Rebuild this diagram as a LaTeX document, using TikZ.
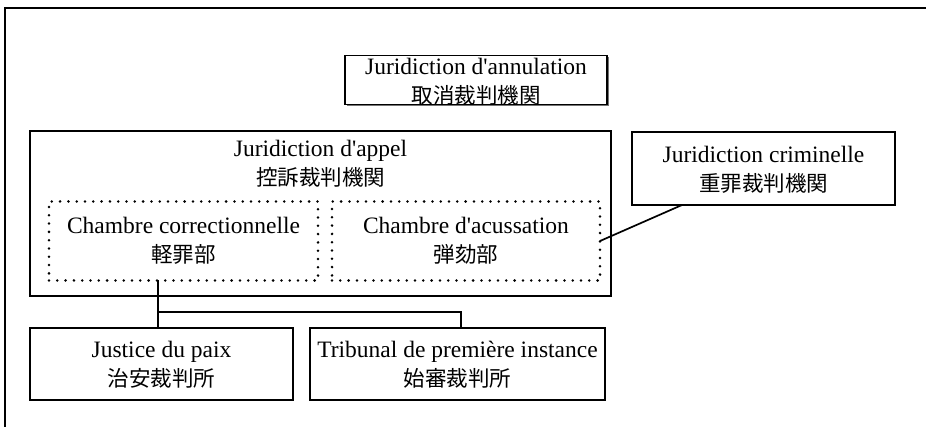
\documentclass[tikz,border=0pt]{standalone}
\usepackage{fontspec}
\setmainfont{Liberation Serif}
\newfontfamily\cjk{Noto Sans CJK JP}
\usetikzlibrary{shadows}
\newcommand{\jp}[1]{{\cjk\fontsize{21.5}{29}\selectfont #1}}
\begin{document}
\begin{tikzpicture}[x=1pt,y=1pt,
  every node/.style={inner sep=0pt, outer sep=0pt},
  box/.style={draw, line width=1.1pt, rectangle},
  dotbox/.style={draw, line width=2.8pt, line cap=round, dash pattern=on 0pt off 8.3pt, rectangle},
  dbox/.style={draw, line width=1.2pt, fill=white, rectangle,
    drop shadow={shadow xshift=1.6pt, shadow yshift=-1.6pt, fill=black!55, opacity=1}},
  txt/.style={align=center, font=\fontsize{23.5}{29}\selectfont},
  conn/.style={line width=1.7pt}
]
\useasboundingbox (0,0) rectangle (926,-427);
% outer frame
\draw[line width=1.3pt] (5,-427) -- (5,-8) -- (926,-8);

\node[dbox, minimum width=262pt, minimum height=49pt] (annul) at (476,-80) {};
\node[txt] (annultxt) at (476,-82) {Juridiction d\textquotesingle annulation\\\jp{取消裁判機関}};

\node[box, minimum width=581pt, minimum height=165pt] (appel) at (320.5,-213.5) {};
\node[txt, anchor=north] (appeltxt) at (320.5,-140) {Juridiction d\textquotesingle appel\\\jp{控訴裁判機関}};

\node[dotbox, minimum width=269pt, minimum height=79pt] (corr) at (183.5,-241) {};
\node[txt] (corrtxt) at (183.5,-241) {Chambre correctionnelle\\\jp{軽罪部}};

\node[dotbox, minimum width=268pt, minimum height=79pt] (acc) at (466,-241) {};
\node[txt] (acctxt) at (466,-241) {Chambre d\textquotesingle acussation\\\jp{弾劾部}};

\node[box, minimum width=263pt, minimum height=73pt] (crim) at (763.5,-168.5) {};
\node[txt] (crimtxt) at (763.5,-169.5) {Juridiction criminelle\\\jp{重罪裁判機関}};

\node[box, minimum width=263pt, minimum height=72pt] (jpx) at (161.5,-364) {};
\node[txt] (jptxt) at (161.5,-365) {Justice du paix\\\jp{治安裁判所}};

\node[box, minimum width=295pt, minimum height=72pt] (trib) at (457.5,-364) {};
\node[txt] (tribtxt) at (457.5,-365) {Tribunal de première instance\\\jp{始審裁判所}};

% connectors
\coordinate (bus) at (0,-312);
\coordinate (drop) at (158,0);
\coordinate (drop2) at (461,0);
\draw[conn] (corr.south -| drop) -- (jpx.north -| drop);
\draw[conn] (bus -| drop) -- (bus -| drop2) -- (trib.north -| drop2);
\draw[conn] ([xshift=50pt]crim.south west) -- (acc.east);
\end{tikzpicture}
\end{document}
